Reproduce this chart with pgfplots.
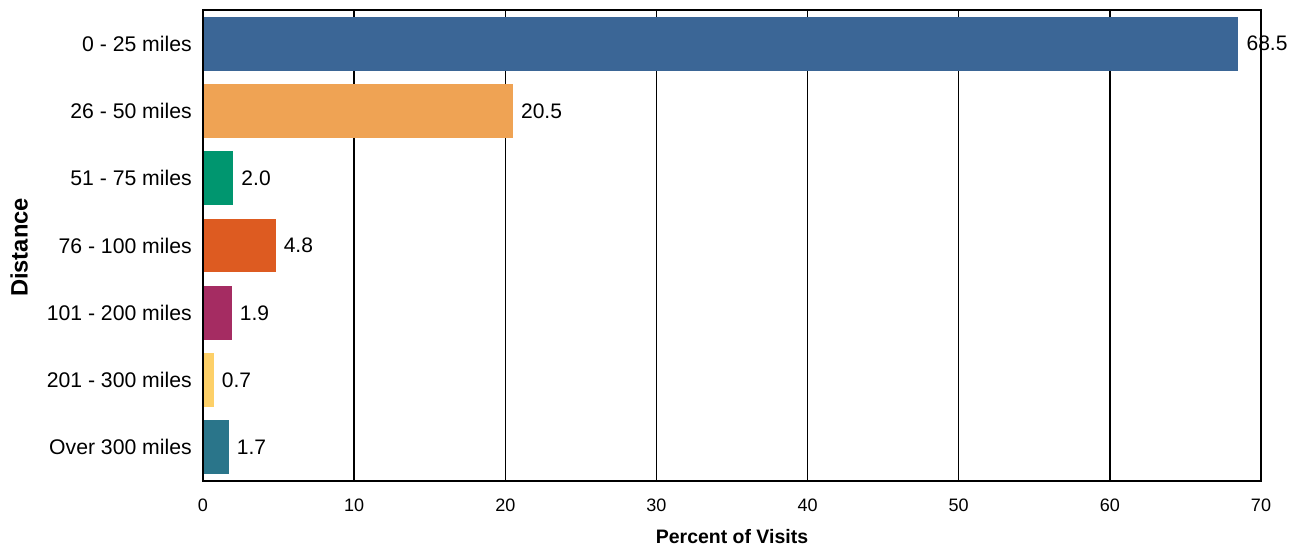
\documentclass[border=0pt]{standalone}
\usepackage{pgfplots}
\pgfplotsset{compat=1.18}
\usepackage{fontspec}
\setmainfont{Liberation Sans}

\definecolor{barA}{HTML}{3B6696}
\definecolor{barB}{HTML}{EFA354}
\definecolor{barC}{HTML}{00966F}
\definecolor{barD}{HTML}{DD5B21}
\definecolor{barE}{HTML}{A52C62}
\definecolor{barF}{HTML}{FDD068}
\definecolor{barG}{HTML}{2A758A}

\begin{document}
\begin{tikzpicture}
\path[use as bounding box] (-152.25pt,-51.75pt) rectangle (821.25pt,360.75pt);
\begin{axis}[
  scale only axis,
  width=793.5pt, height=353.25pt,
  at={(0,0)}, anchor=south west,
  xmin=0, xmax=70, ymin=-0.5, ymax=6.5,
  y dir=reverse,
  xbar, bar width=0.8, bar shift=0pt,
  xtick={0,10,...,70},
  ytick={0,1,2,3,4,5,6},
  yticklabels={0 - 25 miles,26 - 50 miles,51 - 75 miles,76 - 100 miles,101 - 200 miles,201 - 300 miles,Over 300 miles},
  xmajorgrids, ymajorgrids=false,
  major grid style={black, line width=1pt},
  axis line style={draw=none},
  major tick length=0pt,
  /pgf/number format/assume math mode=true,
  xticklabel style={font=\fontsize{13.5}{16}\selectfont, anchor=north, inner sep=0pt, yshift=-13pt},
  yticklabel style={font=\fontsize{15.9}{18}\selectfont, anchor=east, inner sep=0pt, xshift=-8.25pt},
  xlabel={Percent of Visits},
  ylabel={Distance},
  xlabel style={font=\bfseries\fontsize{14.6}{17}\selectfont, at={(axis description cs:0.5,0)}, anchor=base, yshift=-46.5pt},
  ylabel style={font=\bfseries\fontsize{17.8}{20}\selectfont, at={([xshift=-131.5pt,yshift=-1.5pt]axis description cs:0,0.5)}, anchor=base},
  point meta=x,
  nodes near coords={\pgfmathprintnumber[fixed,fixed zerofill,precision=1]{\pgfplotspointmeta}},
  nodes near coords style={font=\fontsize{15.75}{18}\selectfont, anchor=west, inner sep=0pt, xshift=6pt},
  clip=false,
]
\addplot[fill=barA, draw=none] coordinates {(68.5,0)};
\addplot[fill=barB, draw=none] coordinates {(20.5,1)};
\addplot[fill=barC, draw=none] coordinates {(2.0,2)};
\addplot[fill=barD, draw=none] coordinates {(4.8,3)};
\addplot[fill=barE, draw=none] coordinates {(1.9,4)};
\addplot[fill=barF, draw=none] coordinates {(0.7,5)};
\addplot[fill=barG, draw=none] coordinates {(1.7,6)};
% frame drawn over the bars
\draw[black, line width=1.3pt] (rel axis cs:0,0) rectangle (rel axis cs:1,1);
\end{axis}
\end{tikzpicture}
\end{document}
